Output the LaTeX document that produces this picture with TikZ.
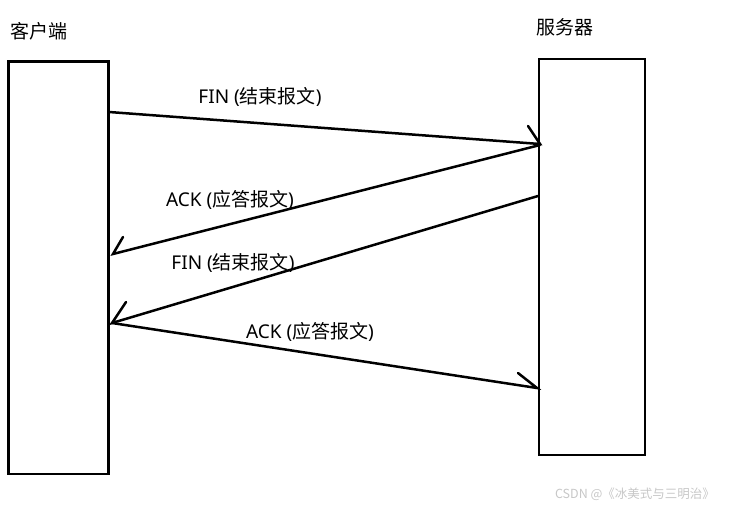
\documentclass[tikz,border=0pt]{standalone}
\usepackage{fontspec}
\setmainfont{Noto Sans CJK SC}
\newfontfamily\latf{Noto Sans}
\newcommand{\lt}[1]{{\latf #1}}
\begin{document}
\begin{tikzpicture}[x=1pt,y=-1pt,
  lifeline/.style={draw=black, line width=2.6pt, inner sep=0pt, outer sep=0pt},
  msg/.style={draw=black, line width=2.5pt, line cap=round},
  lbl/.style={font=\fontsize{19}{22}\selectfont, inner sep=0pt},
  wm/.style={font=\fontsize{12.5}{14}\selectfont, text=black!22, inner sep=0pt}]
\useasboundingbox (0,0) rectangle (735,508);
% boxes
\node[lifeline, minimum width=100pt, minimum height=412.5pt, anchor=north west] (client) at (8.5,61.5) {};
\node[lifeline, minimum width=106pt, minimum height=396pt, anchor=north west] (server) at (539,59) {};
\node[lbl] (clientlbl) at (39,31) {客户端};
\node[lbl] (serverlbl) at (565,27) {服务器};
% coordinates
\coordinate (a1s) at (109,112);
\coordinate (a1e) at (540,144);
\coordinate (a1b) at (528,126);
\coordinate (a2s) at (540,145);
\coordinate (a2e) at (113,254);
\coordinate (a2b) at (123,237);
\coordinate (a3s) at (538,196);
\coordinate (a3e) at (112,323);
\coordinate (a3b) at (126,302);
\coordinate (a4s) at (112,323);
\coordinate (a4e) at (537,388);
\coordinate (a4b) at (518,373);
% messages
\draw[msg] (a1s) -- (a1e) -- (a1b);
\draw[msg] (a2s) -- (a2e) -- (a2b);
\draw[msg] (a3s) -- (a3e) -- (a3b);
\draw[msg] (a4s) -- (a4e) -- (a4b);
% labels
\node[lbl] (l1) at (260,97) {\lt{FIN (}结束报文\lt{)}};
\node[lbl] (l2) at (230,200) {\lt{ACK (}应答报文\lt{)}};
\node[lbl] (l3) at (233,263) {\lt{FIN (}结束报文\lt{)}};
\node[lbl] (l4) at (310,332) {\lt{ACK (}应答报文\lt{)}};
\node[wm] (wm) at (635,494) {CSDN @《冰美式与三明治》};
\end{tikzpicture}
\end{document}
